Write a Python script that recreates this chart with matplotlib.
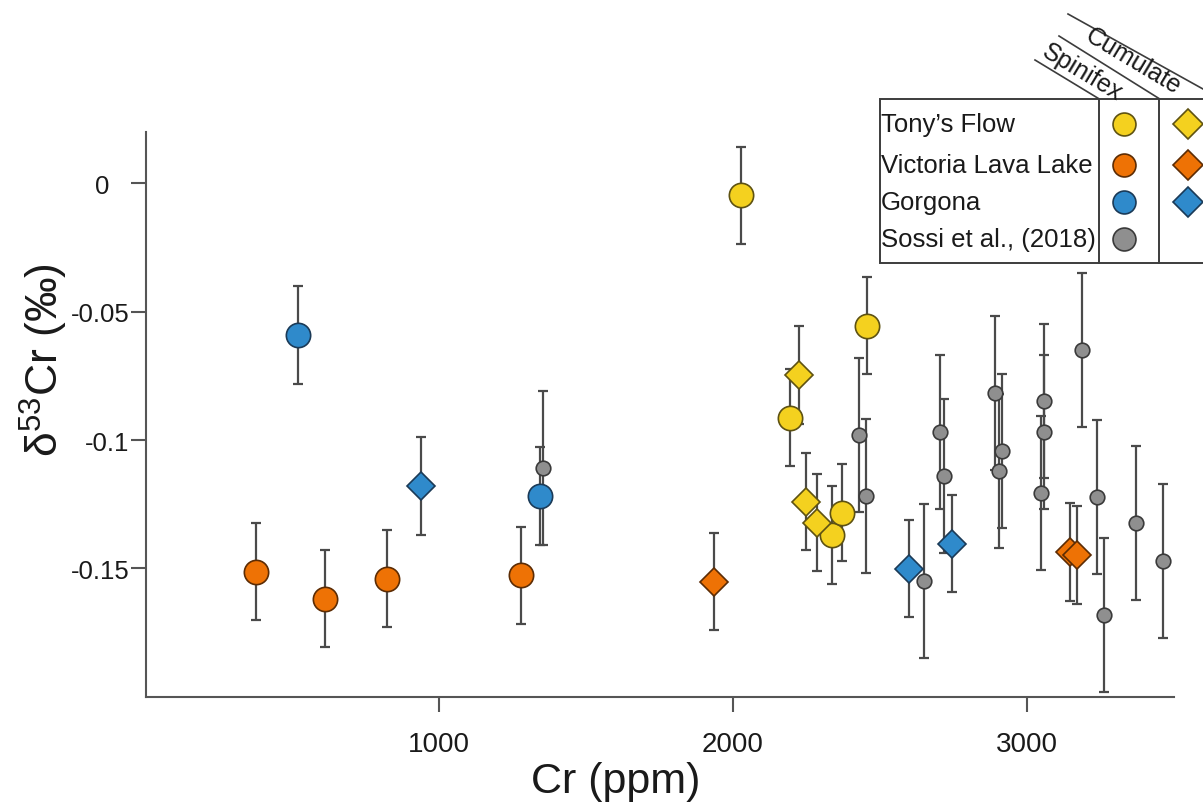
import matplotlib
matplotlib.use('Agg')
import matplotlib.pyplot as plt
from matplotlib.patches import Rectangle
from matplotlib.transforms import ScaledTranslation

plt.rcParams['font.family'] = ['Liberation Sans', 'DejaVu Sans']
plt.rcParams['mathtext.fontset'] = 'custom'
plt.rcParams['mathtext.rm'] = 'Liberation Sans'

# Tony's Flow
tony_spx_cr = [2026, 2455, 2194, 2336, 2370]
tony_spx_d = [-0.0047, -0.0554, -0.0913, -0.1371, -0.1283]
tony_cum_cr = [2225, 2247, 2285]
tony_cum_d = [-0.0747, -0.1240, -0.1322]

# Victoria Lava Lake
vll_spx_cr = [377, 611, 823, 1278]
vll_spx_d = [-0.1513, -0.1618, -0.1540, -0.1527]
vll_cum_cr = [1935, 3147, 3172]
vll_cum_d = [-0.1552, -0.1436, -0.1448]

# Gorgona
gor_spx_cr = [520, 1343]
gor_spx_d = [-0.0591, -0.1218]
gor_cum_cr = [937, 2600, 2746]
gor_cum_d = [-0.1179, -0.1501, -0.1404]

# Sossi et al. (2018)
sossi_cr = [1354, 2429, 2453, 2649, 2706, 2717, 2893, 2905, 2916,
            3060, 3060, 3049, 3189, 3238, 3262, 3372, 3463]
sossi_d = [-0.1111, -0.0981, -0.1218, -0.1550, -0.0970, -0.1140, -0.0817, -0.1120, -0.1042,
           -0.0847, -0.0970, -0.1208, -0.0648, -0.1222, -0.1683, -0.1322, -0.1473]

err_this_study = 0.019
err_sossi = 0.030

yellow, yellow_edge = '#F4D11F', '#5e5212'
orange, orange_edge = '#EE7205', '#5c2c04'
blue, blue_edge = '#2F8ACB', '#1b3a57'
grey, grey_edge = '#8F8F8F', '#3a3a3a'
bar_col = '#4a4a4a'

fig = plt.figure(figsize=(12.03, 8.12), dpi=100)
ax = fig.add_axes([0.1210, 0.1408, 0.8545, 0.6954])

groups = [
    (sossi_cr, sossi_d, err_sossi, 'o', 10.5, grey, grey_edge),
    (vll_spx_cr, vll_spx_d, err_this_study, 'o', 17.5, orange, orange_edge),
    (vll_cum_cr, vll_cum_d, err_this_study, 'D', 14.5, orange, orange_edge),
    (gor_spx_cr, gor_spx_d, err_this_study, 'o', 17.5, blue, blue_edge),
    (gor_cum_cr, gor_cum_d, err_this_study, 'D', 14.5, blue, blue_edge),
    (tony_spx_cr, tony_spx_d, err_this_study, 'o', 17.5, yellow, yellow_edge),
    (tony_cum_cr, tony_cum_d, err_this_study, 'D', 14.5, yellow, yellow_edge),
]

# error bars first so every symbol sits on top of them
for cr, d, err, m, ms, fc, ec in groups:
    ax.errorbar(cr, d, yerr=err, fmt='none', ecolor=bar_col, elinewidth=1.6,
                capsize=3.8, capthick=1.6, zorder=2)
for i, (cr, d, err, m, ms, fc, ec) in enumerate(groups):
    ax.plot(cr, d, linestyle='none', marker=m, markersize=ms, markerfacecolor=fc,
            markeredgecolor=ec, markeredgewidth=1.2, zorder=3 + i)

ax.set_xlim(0, 3500)
ax.set_ylim(-0.2, 0.02)
ax.set_xticks([1000, 2000, 3000])
ax.set_xticklabels(['1000', '2000', '3000'], fontsize=20)
ax.set_yticks([0, -0.05, -0.1, -0.15])
ax.set_yticklabels(['0', '-0.05', '-0.1', '-0.15'], fontsize=18.5)
ax.tick_params(axis='both', direction='out', length=11, width=1.5, color='#555555',
               labelcolor='#1a1a1a')
ax.tick_params(axis='x', pad=14)
ax.tick_params(axis='y', pad=0.5)
for side in ['top', 'right']:
    ax.spines[side].set_visible(False)
for side in ['left', 'bottom']:
    ax.spines[side].set_color('#555555')
    ax.spines[side].set_linewidth(1.5)

# the zero label sits a little further out than the others
zero_lbl = ax.get_yticklabels()[0]
zero_lbl.set_transform(zero_lbl.get_transform() + ScaledTranslation(-0.2, 0, fig.dpi_scale_trans))

fig.text(616 / 1203, 1 - 782 / 812, 'Cr (ppm)', ha='center', va='center', fontsize=31,
         color='#1a1a1a')
fig.text(44 / 1203, 1 - 360 / 812, r'δ$^{\mathrm{53}}$Cr (‰)', ha='center', va='center',
         rotation=90, fontsize=32, color='#1a1a1a')

# legend table, laid out in pixel space on top of everything
lg = fig.add_axes([0, 0, 1, 1], zorder=10)
lg.set_xlim(0, 1203)
lg.set_ylim(812, 0)
lg.axis('off')
lg.patch.set_visible(False)

lc = '#3c3c3c'
lg.add_patch(Rectangle((879.5, 99.5), 360, 164, facecolor='white', edgecolor=lc, lw=1.4))
lg.plot([1098.5, 1098.5], [99.5, 263.5], color=lc, lw=1.4)
lg.plot([1159, 1159], [99.5, 263.5], color=lc, lw=1.4)
lg.plot([1035, 1098.5], [61, 99.5], color=lc, lw=1.2)
lg.plot([1059, 1159], [37, 99.5], color=lc, lw=1.2)
lg.plot([1068, 1230], [15, 105], color=lc, lw=1.2)
lg.text(1082, 73, 'Spinifex', rotation=-31, rotation_mode='anchor', ha='center', va='center',
        fontsize=18, color='#1a1a1a')
lg.text(1133, 62, 'Cumulate', rotation=-31, rotation_mode='anchor', ha='center', va='center',
        fontsize=18, color='#1a1a1a')

row_names = ["Tony’s Flow", 'Victoria Lava Lake', 'Gorgona', 'Sossi et al., (2018)']
row_fc = [yellow, orange, blue, grey]
row_ec = [yellow_edge, orange_edge, blue_edge, grey_edge]
row_y = [125, 166, 203, 240]
for k, name in enumerate(row_names):
    lg.text(881, row_y[k], name, ha='left', va='center', fontsize=18.5, color='#1a1a1a')
    lg.plot([1124], [row_y[k]], marker='o', markersize=16.5, markerfacecolor=row_fc[k],
            markeredgecolor=row_ec[k], markeredgewidth=1.2, linestyle='none')
    if k < 3:
        lg.plot([1188], [row_y[k]], marker='D', markersize=15.5, markerfacecolor=row_fc[k],
                markeredgecolor=row_ec[k], markeredgewidth=1.2, linestyle='none')

fig.savefig('out.png', dpi=100, facecolor='white')
